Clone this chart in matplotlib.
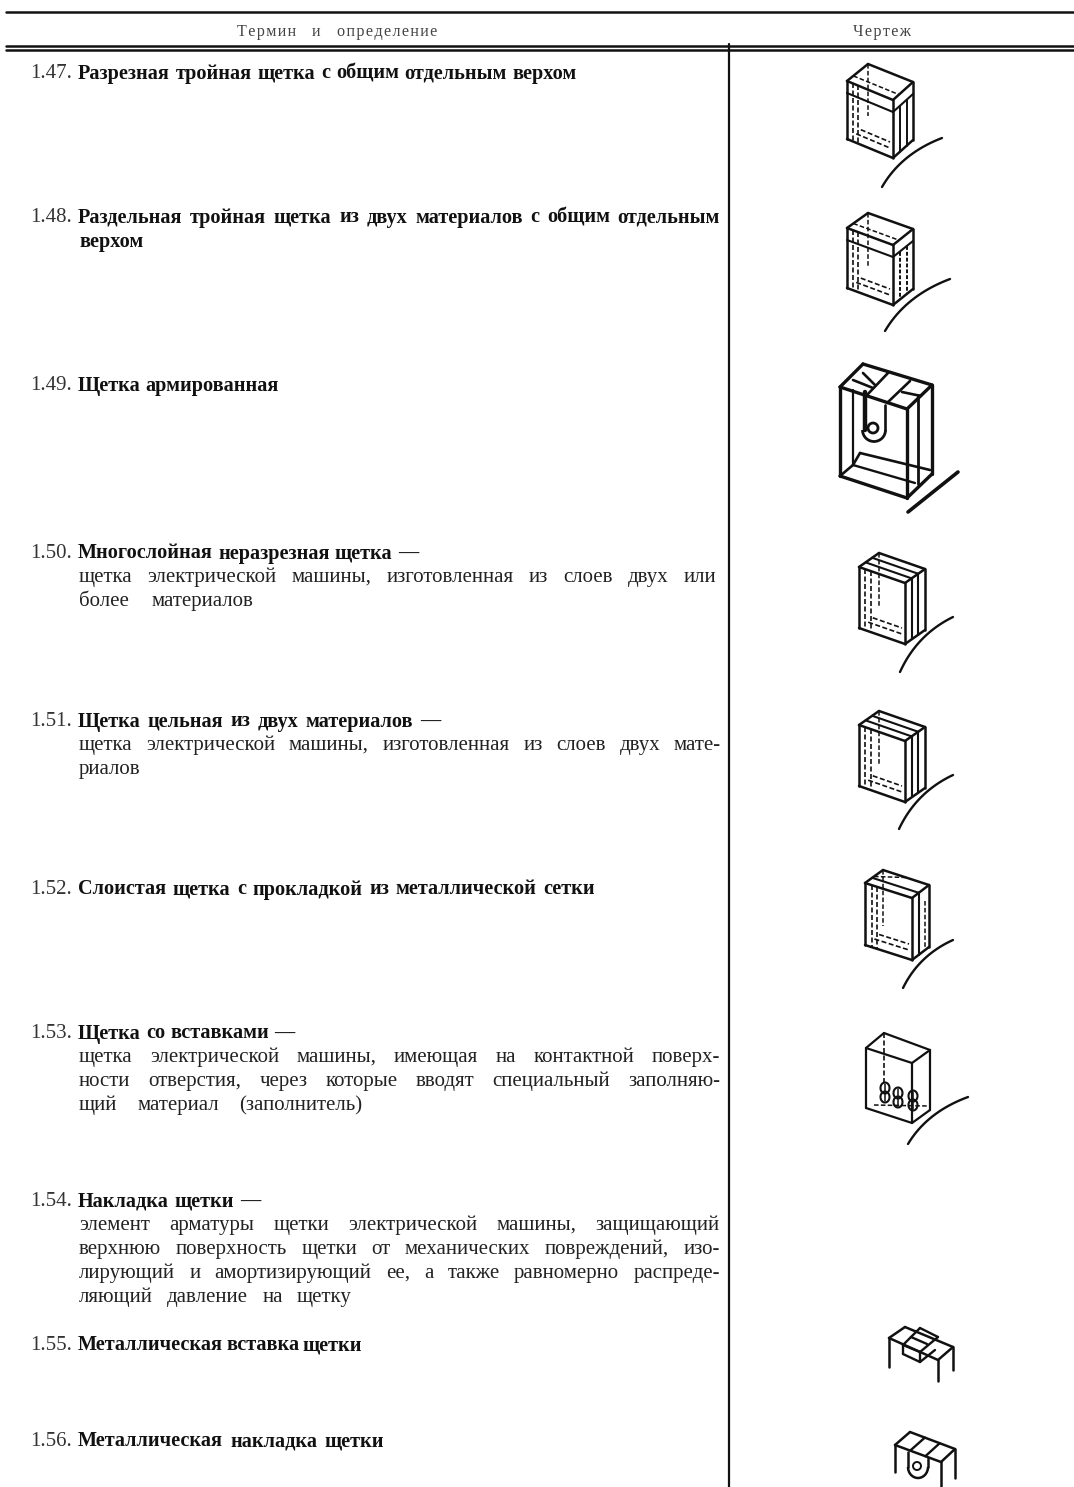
# Page from a terminology standard: term table with small brush sketches
import matplotlib
matplotlib.use('Agg')
import matplotlib.pyplot as plt
from matplotlib.patches import Circle, Arc

W, H = 1074, 1487
INK = '#111111'
FONT = 'Liberation Serif'
BOLD_SIZE = 14.6
BODY_SIZE = 15.0

numbers = ['1.47.', '1.48.', '1.49.', '1.50.', '1.51.', '1.52.', '1.53.', '1.54.', '1.55.', '1.56.']
terms = [
    'Разрезная тройная щетка с общим отдельным верхом',
    'Раздельная тройная щетка из двух материалов с общим отдельным',
    'Щетка армированная',
    'Многослойная неразрезная щетка —',
    'Щетка цельная из двух материалов —',
    'Слоистая щетка с прокладкой из металлической сетки',
    'Щетка со вставками —',
    'Накладка щетки —',
    'Металлическая вставка щетки',
    'Металлическая накладка щетки',
]
term_y = [71, 215, 383, 551, 719, 887, 1031, 1199, 1343, 1439]
term_end = [577, 720, 279, 418, 440, 595, 294, 260, 362, 384]

bold_extra = [('верхом', 239, 145)]
body_lines = [
    ('щетка электрической машины, изготовленная из слоев двух или', 575, 716),
    ('более материалов', 599, 253),
    ('щетка электрической машины, изготовленная из слоев двух мате-', 743, 721),
    ('риалов', 767, 146),
    ('щетка электрической машины, имеющая на контактной поверх-', 1055, 720),
    ('ности отверстия, через которые вводят специальный заполняю-', 1079, 720),
    ('щий материал (заполнитель)', 1103, 362),
    ('элемент арматуры щетки электрической машины, защищающий', 1223, 720),
    ('верхнюю поверхность щетки от механических повреждений, изо-', 1247, 720),
    ('лирующий и амортизирующий ее, а также равномерно распреде-', 1271, 720),
    ('ляющий давление на щетку', 1295, 352),
]

# sketches: left, back, right, front top corners, height, contact arc ends
boxes = [
    ((847, 81), (868, 64), (913, 82), (893, 100), 58, (882, 187), (942, 138)),
    ((847, 228), (868, 213), (913, 229), (893, 245), 60, (885, 331), (950, 279)),
    ((859, 567), (879, 553), (925, 569), (905, 583), 61, (900, 672), (953, 617)),
    ((859, 725), (879, 711), (925, 727), (905, 741), 61, (899, 829), (953, 775)),
    ((865, 883), (883, 870), (929, 885), (912, 898), 62, (903, 988), (953, 940)),
    ((866, 1048), (884, 1033), (930, 1050), (912, 1063), 60, (908, 1144), (968, 1097)),
]
capsules = [(885, 1092), (898, 1097), (913, 1100)]

fig = plt.figure(figsize=(W / 100, H / 100), dpi=100)
ax = fig.add_axes([0, 0, 1, 1])
ax.set_xlim(0, W)
ax.set_ylim(H, 0)
ax.axis('off')


def seg(a, b, lw=1.5, ls='-', color=INK):
    ax.plot([a[0], b[0]], [a[1], b[1]], color=color, lw=lw, ls=ls,
            solid_capstyle='round', zorder=3)


def mix(a, b, t):
    return (a[0] + (b[0] - a[0]) * t, a[1] + (b[1] - a[1]) * t)


def down(p, d):
    return (p[0], p[1] + d)


def fit_line(parts, left, right, y, size=BODY_SIZE, color=INK):
    # parts: (word, weight); words are spread so the line ends at right
    rend = fig.canvas.get_renderer()
    items = [ax.text(left, y, w, fontsize=size, family=FONT, weight=wt, color=color,
                     va='center_baseline', ha='left') for w, wt in parts]
    widths = [it.get_window_extent(rend).width for it in items]
    gap = (right - left - sum(widths)) / max(len(items) - 1, 1)
    gap = max(gap, 2.5)
    x = left
    for it, wd in zip(items, widths):
        it.set_x(x)
        x += wd + gap


def contact(a, b, lw=1.7):
    # shallow curve for the collector surface
    ctrl = (a[0] + (b[0] - a[0]) * 0.32, a[1] + (b[1] - a[1]) * 0.68)
    xs, ys = [], []
    for i in range(21):
        t = i / 20
        xs.append((1 - t) ** 2 * a[0] + 2 * t * (1 - t) * ctrl[0] + t ** 2 * b[0])
        ys.append((1 - t) ** 2 * a[1] + 2 * t * (1 - t) * ctrl[1] + t ** 2 * b[1])
    ax.plot(xs, ys, color=INK, lw=lw, solid_capstyle='round', zorder=3)


def box(L, B, R, F, h, lw=1.8):
    for a, b in [(L, B), (B, R), (R, F), (F, L)]:
        seg(a, b, lw)
    for p in (L, F, R):
        seg(p, down(p, h), lw)
    seg(down(L, h), down(F, h), lw)
    seg(down(F, h), down(R, h), lw)


def inner(L, B, R, F, h, inset=0.2):
    # dashed hidden edges behind the front faces
    dash = (0, (3, 1.5))
    seg(B, down(B, h - 6), 1.1, dash)
    a = mix(L, F, inset)
    seg(a, down(a, h), 1.2, dash)
    a2 = mix(L, F, inset * 1.8)
    seg(a2, down(a2, h), 1.2, dash)
    b = down(L, h - 9)
    seg(mix(b, (F[0], F[1] + h - 9), 0.2), (F[0] - 3, F[1] + h - 10), 1.2, dash)
    b2 = down(L, h - 15)
    seg(mix(b2, (F[0], F[1] + h - 15), 0.3), (F[0] - 3, F[1] + h - 16), 1.2, dash)


# table rules
seg((6, 12), (W, 12), 1.8)
seg((6, 46), (W, 46), 1.8)
seg((6, 50), (W, 50), 1.8)
seg((729, 44), (729, H), 1.6)

# header is letter-spaced with hair spaces
spaced = lambda word: '\u200a'.join(word)
fit_line([(spaced('Термин'), 'normal'), ('и', 'normal'), (spaced('определение'), 'normal')],
         237, 437, 30, 11.6, '#444444')
fit_line([(spaced('Чертеж'), 'normal')], 853, 915, 30, 11.6, '#444444')

for num, term, y, end in zip(numbers, terms, term_y, term_end):
    ax.text(30, y, num, fontsize=15, family=FONT, color='#333333', va='center_baseline', ha='left')
    fit_line([(w, 'bold') for w in term.split()], 78, end, y, BOLD_SIZE)
for line, y, end in bold_extra:
    fit_line([(w, 'bold') for w in line.split()], 79, end, y, BOLD_SIZE)
for line, y, end in body_lines:
    fit_line([(w, 'normal') for w in line.split()], 79, end, y, color='#222222')

# split brushes with a cap (1.47, 1.48)
for i in (0, 1):
    L, B, R, F, h, a1, a2 = boxes[i]
    box(L, B, R, F, h)
    inner(L, B, R, F, h, 0.13)
    contact(a1, a2)
    seg(down(L, 12), down(F, 12), 1.5)
    seg(down(F, 12), down(R, 12), 1.5)
    seg(mix(L, B, 0.3), mix(F, R, 0.3), 1.1, (0, (3, 1.5)))
    for t in (0.33, 0.68):
        p = mix(F, R, t)
        seg(down(p, 12), down(p, h), 1.4, (0, (2, 1)) if i == 1 else '-')

# reinforced brush 1.49
L, B, R, F = (840, 387), (863, 364), (932, 385), (907, 409)
h = 89
box(L, B, R, F, h, 2.4)
seg((908, 512), (958, 472), 2.6)
for a, b in [((888, 373), (867, 395)), ((910, 381), (887, 403)), ((853, 380), (873, 388)),
             ((863, 373), (875, 385)), ((902, 392), (921, 396))]:
    seg(a, b, 1.9)
seg((853, 390), (853, 465), 1.6)
seg((860, 453), (930, 470), 1.9)
seg((860, 453), (853, 465), 1.9)
seg((853, 465), (840, 476), 1.9)
seg((853, 465), (915, 483), 1.7)
seg((918, 395), (918, 484), 2.0)
seg((865, 392), (865, 430), 3.2)
seg((885, 405), (885, 430), 1.9)
ax.add_patch(Arc((874, 430), 23, 23, theta1=0, theta2=180, color=INK, lw=2.0, zorder=3))
ax.add_patch(Circle((873, 428), 5, fill=False, ec=INK, lw=2.0, zorder=3))

# layered brushes 1.50, 1.51, 1.52
for i in (2, 3, 4):
    L, B, R, F, h, a1, a2 = boxes[i]
    box(L, B, R, F, h)
    inner(L, B, R, F, h, 0.14)
    contact(a1, a2)
    for t in (0.33, 0.66) if i < 4 else (0.4,):
        p, q = mix(F, R, t), mix(L, B, t)
        seg(q, p, 1.5)
        seg(p, down(p, h), 1.5)
    if i == 4:
        p = mix(F, R, 0.4)
        seg(mix(L, B, 0.5), mix(B, R, 0.5), 1.1, (0, (3, 1.5)))
        seg((p[0] + 6, p[1] + 8), (p[0] + 6, p[1] + h - 6), 1.1, (0, (3, 1.5)))

# brush with inserts 1.53
L, B, R, F, h, a1, a2 = boxes[5]
box(L, B, R, F, h, 1.6)
contact(a1, a2)
seg(B, (884, 1083), 1.2, (0, (3, 1.5)))
seg((874, 1105), (928, 1106), 1.1, (0, (3, 1.5)))
for cx, cy in capsules:
    for dy in (-4, 5):
        ax.add_patch(Arc((cx, cy + dy), 9, 11, color=INK, lw=1.5, zorder=3))
    seg((cx, cy - 8), (cx, cy + 9), 1.1)

# plate sketches 1.55 and 1.56
L, B, R, F = (889, 1338), (905, 1327), (953, 1347), (938, 1360)
for a, b in [(L, B), (B, R), (R, F), (F, L)]:
    seg(a, b, 1.8)
seg(L, (889, 1367), 1.8)
seg(R, (953, 1370), 1.8)
seg(F, (938, 1381), 1.8)
for a, b in [((903, 1345), (920, 1328)), ((920, 1328), (938, 1337)), ((938, 1337), (920, 1352)),
             ((903, 1345), (920, 1352)), ((903, 1345), (903, 1354)), ((903, 1354), (920, 1362)),
             ((920, 1352), (920, 1362)), ((920, 1362), (935, 1350)), ((911, 1337), (927, 1344))]:
    seg(a, b, 1.7)

L, B, R, F = (895, 1445), (910, 1432), (955, 1449), (941, 1462)
for a, b in [(L, B), (B, R), (R, F), (F, L)]:
    seg(a, b, 1.8)
seg(L, (895, 1472), 1.8)
seg(R, (955, 1478), 1.8)
seg(F, (941, 1487), 1.8)
for t in (0.33, 0.66):
    seg(mix(B, R, t), mix(L, F, t), 1.7)
seg((908, 1452), (908, 1467), 1.8)
seg((928, 1458), (928, 1467), 1.8)
ax.add_patch(Arc((918, 1467), 20, 22, theta1=0, theta2=180, color=INK, lw=1.8, zorder=3))
ax.add_patch(Circle((917, 1466), 4, fill=False, ec=INK, lw=1.4, zorder=3))

fig.savefig('out.png', dpi=100)
